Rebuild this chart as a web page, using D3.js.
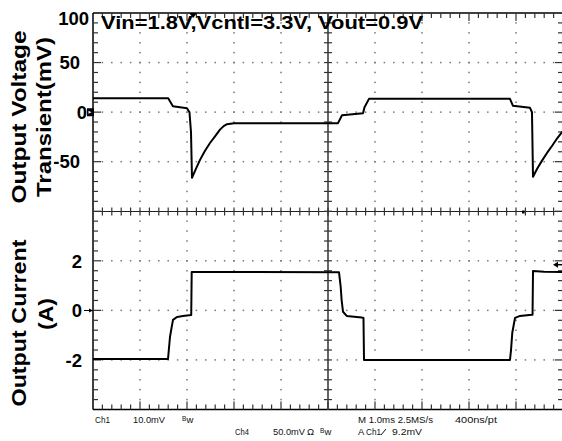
<!DOCTYPE html>
<html><head><meta charset="utf-8">
<script src="https://cdn.jsdelivr.net/npm/d3@7"></script>
<style>
html,body{margin:0;padding:0;background:#fff;}
svg{display:block;font-family:"Liberation Sans",Arial,sans-serif;}
</style></head>
<body><svg id="c" width="562" height="441"></svg>
<script>
// ---- data (time in ms, 1.0 ms/div) ----
const vTime = [0, 1.6, 1.7, 2.0, 2.053, 2.085, 2.106, 2.18, 2.277, 2.38, 2.489, 2.6, 2.702, 2.78, 2.851, 3.0,
  5.213, 5.298, 5.745, 5.777, 5.872, 8.872, 8.936, 9.298, 9.34, 9.362, 9.45, 9.55, 9.66, 9.78, 9.88, 9.979, 10];
const vOut = [14, 14, 6, 4, 0, -20, -66, -58, -48, -39, -31, -24, -17.5, -14, -12, -11,
  -11, -3, -1, 5, 13.5, 13.5, 6.5, 4.5, 0, -65, -57, -49, -41, -33, -26, -20, -19];
const iTime = [0, 1.596, 1.638, 1.674, 1.702, 1.787, 1.915, 2.09, 2.10, 5.234, 5.27, 5.29, 5.319, 5.398, 5.717,
  5.755, 5.766, 8.872, 8.894, 8.921, 8.979, 9.085, 9.334, 9.352, 9.362, 9.6, 10];
const iOut = [-1.96, -1.96, -1.07, -0.67, -0.38, -0.26, -0.22, -0.18, 1.56, 1.55, 0.95, 0.42, -0.05, -0.22, -0.28,
  -0.3, -2.0, -2.0, -1.6, -0.9, -0.3, -0.22, -0.17, -0.17, 1.6, 1.57, 1.55];
const vTicks = [100, 50, 0, -50];
const iTicks = [2, 0, -2];
const title = "Vin=1.8V,Vcntl=3.3V, Vout=0.9V";
const vLabel = ["Output Voltage", "Transient(mV)"];
const iLabel = ["Output Current", "(A)"];

const svg = d3.select("#c");
const L = 93, R = 563, T = 13, B = 409.5, MID = 211.5;
const x = d3.scaleLinear().domain([0, 10]).range([L, R]);
const yV = d3.scaleLinear().domain([-100, 100]).range([MID, T]);
const yI = d3.scaleLinear().domain([-4, 4]).range([B, MID]);
const gx = d3.scaleLinear().domain([0, 10]).range([L, R]);
const gy = d3.scaleLinear().domain([0, 8]).range([T, B]);

const g = svg.append("g");
// dotted grid
const dots = [];
for (let i = 1; i < 10; i++) { if (i === 5) continue; for (let j = 1; j < 40; j++) dots.push([gx(i), gy(j / 5)]); }
for (let k = 1; k < 8; k++) { if (k === 4) continue; for (let j = 1; j < 50; j++) dots.push([gx(j / 5), gy(k)]); }
g.selectAll("rect.d").data(dots).join("rect").attr("class", "d")
  .attr("x", d => d[0] - 0.75).attr("y", d => d[1] - 0.75).attr("width", 1.5).attr("height", 1.5).attr("fill", "#777");

// frame
g.append("line").attr("x1", L).attr("x2", R).attr("y1", T).attr("y2", T).attr("stroke", "#000").attr("stroke-width", 1.5);
g.append("line").attr("x1", L).attr("x2", R).attr("y1", B).attr("y2", B).attr("stroke", "#000").attr("stroke-width", 1.5);
g.append("line").attr("x1", L).attr("x2", L).attr("y1", T).attr("y2", B).attr("stroke", "#000").attr("stroke-width", 1.5);
g.append("line").attr("x1", R).attr("x2", R).attr("y1", T).attr("y2", B).attr("stroke", "#000").attr("stroke-width", 1.5);
// center cross
g.append("line").attr("x1", L).attr("x2", R).attr("y1", MID).attr("y2", MID).attr("stroke", "#222").attr("stroke-width", 1.2);
g.append("line").attr("x1", gx(5)).attr("x2", gx(5)).attr("y1", T).attr("y2", B).attr("stroke", "#555").attr("stroke-width", 1.8);

const tk = [];
for (let j = 1; j < 50; j++) {
  const xx = gx(j / 5), major = j % 5 === 0, len = major ? 8 : 5;
  tk.push([xx, T, xx, T + len]); tk.push([xx, B, xx, B - len]);
  tk.push([xx, MID - 4, xx, MID + 4]);
}
for (let j = 1; j < 40; j++) {
  const yy = gy(j / 5), major = j % 5 === 0, len = major ? 8 : 5;
  tk.push([L, yy, L + len, yy]); tk.push([R, yy, R - len, yy]);
  tk.push([gx(5) - 4, yy, gx(5) + 4, yy]);
}
g.selectAll("line.t").data(tk).join("line").attr("class", "t")
  .attr("x1", d => d[0]).attr("y1", d => d[1]).attr("x2", d => d[2]).attr("y2", d => d[3])
  .attr("stroke", "#333").attr("stroke-width", 1.2);

// traces
svg.append("clipPath").attr("id", "cp").append("rect").attr("x", L).attr("y", T).attr("width", R - L).attr("height", B - T);
const tr = svg.append("g").attr("clip-path", "url(#cp)");
tr.append("path").datum(vTime.map((t, i) => [t, vOut[i]]))
  .attr("d", d3.line().x(d => x(d[0])).y(d => yV(d[1])))
  .attr("fill", "none").attr("stroke", "#000").attr("stroke-width", 2).attr("stroke-linejoin", "round");
tr.append("path").datum(iTime.map((t, i) => [t, iOut[i]]))
  .attr("d", d3.line().x(d => x(d[0])).y(d => yI(d[1])))
  .attr("fill", "none").attr("stroke", "#000").attr("stroke-width", 2).attr("stroke-linejoin", "round");

// markers
svg.append("path").attr("d", `M${x(2.13) - 4},${T} L${x(2.13) + 4},${T} L${x(2.13)},${T + 5} Z`).attr("fill", "#000");
svg.append("rect").attr("x", 87).attr("y", yV(0) - 4).attr("width", 7).attr("height", 8).attr("fill", "#000");
svg.append("path").attr("d", `M88.5,${yV(0) - 1.5} L91.5,${yV(0)} L88.5,${yV(0) + 1.5} Z`).attr("fill", "#fff");
svg.append("line").attr("x1", 84).attr("x2", 93).attr("y1", yI(0)).attr("y2", yI(0)).attr("stroke", "#000").attr("stroke-width", 1);
svg.append("path").attr("d", `M93,${yI(0)} L89,${yI(0) - 2} L89,${yI(0) + 2} Z`).attr("fill", "#000");
svg.append("path").attr("d", `M553,${yI(1.85)} L558,${yI(1.85) - 3} L558,${yI(1.85) + 3} Z`).attr("fill", "#000");
svg.append("line").attr("x1", 555).attr("x2", 563).attr("y1", yI(1.85)).attr("y2", yI(1.85)).attr("stroke", "#000").attr("stroke-width", 1.5);
svg.append("rect").attr("x", x(9.15) - 1).attr("y", MID - 1).attr("width", 2.5).attr("height", 3).attr("fill", "#000");

// tick labels
const vx = {100: 89, 50: 80, 0: 87, "-50": 80};
svg.selectAll("text.vt").data(vTicks).join("text").attr("class", "vt")
  .attr("x", d => vx[d]).attr("y", d => d === 100 ? 25 : yV(d) + 6.5)
  .attr("text-anchor", "end").attr("font-size", 18.5).attr("font-weight", "bold").text(d => d);
svg.selectAll("text.it").data(iTicks).join("text").attr("class", "it")
  .attr("x", 82).attr("y", d => yI(d) + 6.5)
  .attr("text-anchor", "end").attr("font-size", 18.5).attr("font-weight", "bold").text(d => d);

// axis titles
function rot(txt, cy, bx, len) {
  svg.append("text").attr("transform", `translate(${bx},${cy}) rotate(-90)`).attr("text-anchor", "middle")
    .attr("font-size", 21).attr("font-weight", "bold").attr("textLength", len).attr("lengthAdjust", "spacingAndGlyphs").text(txt);
}
rot(vLabel[0], 117, 26, 173);
rot(vLabel[1], 117, 50.5, 160);
rot(iLabel[0], 323, 26, 167);
rot(iLabel[1], 314, 52.5, 32);

// title
svg.append("text").attr("x", 101).attr("y", 28.5).attr("font-size", 18).attr("font-weight", "bold")
  .attr("textLength", 322).attr("lengthAdjust", "spacingAndGlyphs").text(title);

// scope readouts
const fs = 9.5;
function t(s, xx, yy, len) {
  const e = svg.append("text").attr("x", xx).attr("y", yy).attr("font-size", fs).attr("fill", "#111").text(s);
  if (len) e.attr("textLength", len).attr("lengthAdjust", "spacingAndGlyphs");
}
function bw(xx, yy) {
  svg.append("text").attr("x", xx).attr("y", yy - 2).attr("font-size", 6.5).attr("fill", "#111").text("B");
  svg.append("text").attr("x", xx + 4.5).attr("y", yy).attr("font-size", fs).attr("fill", "#111").text("w");
}
t("Ch1", 95, 423, 15); t("10.0mV", 133, 423, 32); bw(182, 423); t("M 1.0ms 2.5MS/s", 358, 423, 75); t("400ns/pt", 455, 423, 42);
t("Ch4", 235, 435, 14); t("50.0mV", 273, 435, 32); t("Ω", 307, 435); bw(320, 435);
t("A", 358, 435); t("Ch1", 366, 435, 15);
svg.append("line").attr("x1", 381).attr("y1", 435).attr("x2", 386).attr("y2", 429).attr("stroke", "#111").attr("stroke-width", 1);
t("9.2mV", 392, 435, 30);
</script></body></html>
